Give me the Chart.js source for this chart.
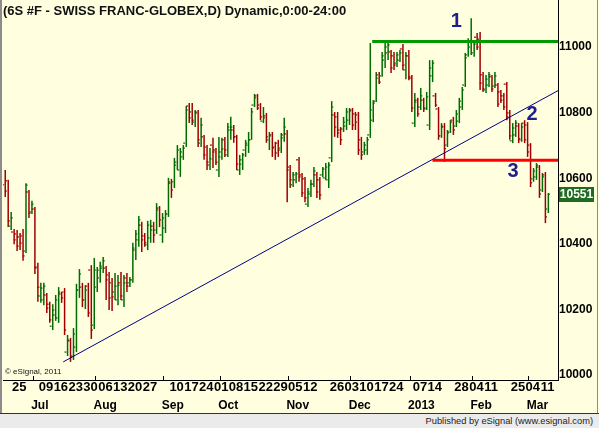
<!DOCTYPE html>
<html>
<head>
<meta charset="utf-8">
<title>6S #F - Swiss Franc Globex</title>
<script src="https://cdn.jsdelivr.net/npm/chart.js"></script>
<style>
  body { margin: 0; background: #fff; }
  #wrap { width: 599px; height: 428px; overflow: hidden; }
  #chart { display: block; }
  #foot {
    height: 14px; border-top: 1px solid #333; background: #ebebeb;
    font: 9.3px "Liberation Sans", Arial, sans-serif; color: #222;
    text-align: right; padding-right: 6px; line-height: 14px;
  }
</style>
</head>
<body>
<div id="wrap">
  <canvas id="chart" width="599" height="413"></canvas>
  <div id="foot">Published by eSignal (www.esignal.com)</div>
</div>
<script>
// trading calendar (CME days, US holidays left out)
const holidays = ['2012-07-04', '2012-09-03', '2012-11-22', '2012-12-25', '2013-01-01', '2013-01-21', '2013-02-18'];
const padDays = ['2013-03-12', '2013-03-13', '2013-03-14'];

// daily bars, 18 Jun 2012 .. 11 Mar 2013
const highP = [
  10625,10595,10497,10445,10442,10433,10445,10585,10564,10531,
  10512,10342,10281,10281,10250,10223,10216,10244,10268,10253,
  10265,10122,10113,10143,10278,10323,10281,10274,10281,10335,
  10357,10329,10345,10360,10332,10314,10296,10311,10305,10314,
  10305,10311,10299,10403,10442,10485,10467,10433,10470,10473,
  10467,10524,10515,10494,10503,10601,10598,10662,10701,10692,
  10701,10820,10829,10829,10808,10808,10784,10732,10701,10692,
  10723,10692,10726,10723,10726,10768,10787,10762,10732,10671,
  10677,10717,10741,10814,10857,10857,10829,10817,10799,10741,
  10741,10711,10717,10738,10784,10747,10640,10619,10619,10665,
  10616,10604,10570,10595,10634,10619,10604,10634,10646,10649,
  10835,10802,10802,10756,10787,10814,10814,10814,10802,10802,
  10726,10711,10726,11012,10838,10924,10924,10985,11015,11021,
  10991,10985,10985,10991,11009,10985,10991,10915,10860,10845,
  10875,10845,10863,10960,10960,10860,10817,10768,10768,10747,
  10777,10787,10808,10845,10878,10982,11027,11088,11021,11043,
  11046,10924,10915,10924,10915,10924,10890,10869,10860,10893,
  10808,10768,10777,10768,10768,10777,10771,10707,10631,10646,
  10640,10616,10619,10555
];
const lowP = [
  10543,10451,10442,10399,10378,10381,10348,10372,10479,10491,
  10308,10223,10220,10213,10189,10159,10137,10165,10159,10220,
  10122,10058,10040,10046,10070,10235,10207,10201,10177,10110,
  10140,10253,10281,10311,10229,10198,10195,10229,10213,10229,
  10207,10253,10268,10281,10351,10391,10375,10391,10381,10403,
  10403,10430,10451,10403,10433,10482,10540,10570,10625,10604,
  10656,10695,10768,10762,10756,10695,10695,10656,10625,10625,
  10631,10640,10604,10656,10665,10665,10717,10708,10625,10610,
  10625,10665,10677,10717,10817,10808,10777,10768,10708,10686,
  10665,10656,10665,10677,10711,10527,10570,10573,10585,10589,
  10543,10527,10512,10543,10573,10540,10534,10604,10595,10570,
  10649,10726,10723,10701,10741,10747,10762,10747,10747,10671,
  10656,10671,10671,10723,10771,10832,10887,10909,10936,10960,
  10921,10930,10939,10954,10930,10902,10899,10802,10756,10787,
  10808,10802,10808,10747,10893,10817,10717,10723,10650,10695,
  10738,10732,10756,10768,10808,10878,10970,10976,10970,10991,
  10869,10863,10860,10878,10863,10875,10817,10829,10808,10777,
  10717,10707,10726,10707,10711,10707,10665,10573,10589,10595,
  10540,10558,10463,10494
];
const openP = [
  10580,10592,10454,10436,10430,10421,10424,10378,10558,10497,
  10506,10329,10241,10229,10244,10216,10149,10183,10174,10247,
  10253,10070,10104,10058,10085,10259,10268,10229,10271,10320,
  10152,10268,10296,10326,10326,10305,10281,10253,10229,10281,
  10229,10296,10281,10290,10381,10412,10457,10424,10397,10418,
  10454,10442,10509,10427,10448,10491,10585,10589,10649,10625,
  10665,10707,10820,10802,10771,10799,10707,10726,10695,10640,
  10701,10686,10625,10680,10717,10671,10747,10747,10726,10625,
  10656,10686,10701,10717,10823,10851,10823,10774,10790,10717,
  10732,10695,10707,10692,10732,10735,10634,10580,10595,10656,
  10610,10598,10521,10552,10582,10610,10595,10610,10601,10595,
  10662,10793,10787,10747,10750,10759,10777,10808,10796,10793,
  10717,10680,10686,10732,10777,10835,10915,10912,10960,10982,
  10985,10973,10951,10960,10994,10930,10973,10905,10768,10838,
  10817,10838,10814,10762,10912,10851,10811,10729,10756,10701,
  10741,10777,10759,10774,10817,10884,10976,11000,10982,11030,
  11024,10915,10869,10884,10909,10881,10884,10863,10851,10887,
  10799,10714,10732,10759,10717,10768,10762,10701,10598,10604,
  10634,10564,10610,10506
];
const closeP = [
  10561,10470,10479,10412,10393,10402,10363,10579,10494,10521,
  10326,10268,10265,10271,10204,10168,10198,10229,10253,10235,
  10137,10107,10055,10125,10259,10308,10229,10259,10189,10137,
  10320,10320,10332,10348,10290,10235,10238,10271,10274,10241,
  10281,10271,10290,10387,10430,10473,10412,10403,10457,10442,
  10427,10503,10473,10479,10491,10589,10564,10640,10686,10680,
  10692,10808,10784,10777,10802,10717,10762,10671,10649,10659,
  10680,10649,10665,10689,10686,10756,10756,10726,10643,10643,
  10671,10707,10717,10802,10845,10814,10787,10784,10726,10729,
  10692,10677,10686,10723,10756,10625,10595,10610,10613,10604,
  10555,10540,10558,10582,10622,10558,10549,10628,10634,10640,
  10817,10756,10738,10717,10771,10802,10805,10762,10771,10686,
  10671,10701,10717,10808,10829,10905,10893,10973,11000,11006,
  10936,10945,10976,10982,10945,10973,10909,10814,10832,10796,
  10851,10811,10848,10936,10951,10823,10729,10759,10690,10738,
  10771,10747,10796,10835,10869,10967,11015,11018,11009,11000,
  10890,10872,10902,10915,10872,10912,10826,10838,10817,10787,
  10729,10753,10768,10720,10756,10717,10680,10586,10622,10640,
  10552,10604,10482,10551
];

// hand drawn studies (x in bar units)
const trendX = [19.8, 186.5], trendY = [10040, 10867];
const topX = [123.9, 186.5], topY = [11017, 11017];
const floorX = [144.2, 186.5], floorY = [10655, 10655];
const noteText = ['1', '2', '3'];
const noteX = [152.2, 177.8, 171.4];
const noteY = [11077, 10793, 10620];

// axis labels
const yTicks = [10000, 10200, 10400, 10600, 10800, 11000];
const weekLabels = ['2012-06-25', '2012-07-09', '2012-07-16', '2012-07-23', '2012-07-30',
  '2012-08-06', '2012-08-13', '2012-08-20', '2012-08-27', '2012-09-10', '2012-09-17',
  '2012-09-24', '2012-10-01', '2012-10-08', '2012-10-15', '2012-10-22', '2012-10-29',
  '2012-11-05', '2012-11-12', '2012-11-26', '2012-12-03', '2012-12-10', '2012-12-17',
  '2012-12-24', '2013-01-07', '2013-01-14', '2013-01-28', '2013-02-04', '2013-02-11',
  '2013-02-25', '2013-03-04', '2013-03-11'];
const monthKeys = ['2012-07', '2012-08', '2012-09', '2012-10', '2012-11', '2012-12', '2013-01', '2013-02', '2013-03'];
const monthNames = ['Jul', 'Aug', 'Sep', 'Oct', 'Nov', 'Dec', '2013', 'Feb', 'Mar'];
const titleText = '(6S #F - SWISS FRANC-GLOBEX,D) Dynamic,0:00-24:00';

const FONT = '"Liberation Sans", Arial, sans-serif';
const GREEN = '#006c00', RED = '#a00000';

const dates = [];
for (let d = new Date(Date.UTC(2012, 5, 18)); d <= new Date(Date.UTC(2013, 2, 11)); d.setUTCDate(d.getUTCDate() + 1)) {
  const s = d.toISOString().slice(0, 10);
  const wd = d.getUTCDay();
  if (wd === 0 || wd === 6 || holidays.includes(s)) continue;
  dates.push(s);
}
const categories = dates.concat(padDays);
const nCat = categories.length;

const dayLabels = categories.map(d => weekLabels.includes(d) ? d.slice(8) : '');
const monthText = categories.map((d, i) => {
  const k = d.slice(0, 7);
  const j = monthKeys.indexOf(k);
  if (j < 0 || (i > 0 && categories[i - 1].slice(0, 7) === k)) return '';
  return monthNames[j];
});

const barColor = closeP.map((c, i) => c >= openP[i] ? GREEN : RED);
const xy = (xs, ys) => xs.map((v, i) => ({x: v, y: ys[i]}));

// background, frame, title and notes
const overlay = {
  id: 'overlay',
  beforeDraw(chart) {
    const ctx = chart.ctx;
    ctx.save();
    ctx.fillStyle = '#ffffe0';
    ctx.fillRect(0, 0, chart.width, chart.height);
    ctx.restore();
  },
  afterDraw(chart) {
    const {ctx, chartArea} = chart;
    const xs = chart.scales.x, x2 = chart.scales.x2, ys = chart.scales.y;
    ctx.save();
    ctx.fillStyle = '#8c8c8c';
    ctx.fillRect(0, 0, 2, chart.height);
    ctx.fillRect(597, 0, 1, chart.height);

    // month marks on the time axis
    ctx.strokeStyle = '#000';
    ctx.lineWidth = 1;
    monthText.forEach((m, i) => {
      if (!m || i === 0) return;
      const px = Math.round((xs.getPixelForValue(i - 1) + xs.getPixelForValue(i)) / 2) + 0.5;
      ctx.beginPath();
      ctx.moveTo(px, chartArea.bottom - 4);
      ctx.lineTo(px, chartArea.bottom);
      ctx.stroke();
    });

    ctx.textBaseline = 'middle';
    ctx.textAlign = 'left';
    ctx.fillStyle = '#111';
    ctx.font = 'bold 13px ' + FONT;
    ctx.fillText(titleText, 3, 11);
    ctx.font = '8px ' + FONT;
    ctx.fillText('\u00a9 eSignal, 2011', 5, 372);

    ctx.font = 'bold 20px ' + FONT;
    ctx.fillStyle = '#1e1e8c';
    ctx.textAlign = 'center';
    noteText.forEach((t, k) => {
      ctx.fillText(t, x2.getPixelForValue(noteX[k]), ys.getPixelForValue(noteY[k]));
    });

    // last price tag
    const last = closeP[closeP.length - 1];
    const py = ys.getPixelForValue(last);
    ctx.fillStyle = '#1f6b1f';
    ctx.fillRect(chartArea.right + 1, Math.round(py - 7.5), 35, 15);
    ctx.fillStyle = '#fff';
    ctx.font = 'bold 12px ' + FONT;
    ctx.fillText(String(last), chartArea.right + 18.5, py + 0.5);
    ctx.restore();
  }
};

const tickFont = {family: FONT, size: 12, weight: 'bold'};
const dayFont = {family: FONT, size: 13, weight: 'bold'};
const noGrid = {display: false, drawTicks: false};

new Chart(document.getElementById('chart'), {
  type: 'bar',
  data: {
    labels: categories,
    datasets: [
      {
        type: 'line', label: 'top', xAxisID: 'x2', data: xy(topX, topY),
        borderColor: '#009a00', borderWidth: 3, pointRadius: 0, order: 0
      },
      {
        type: 'line', label: 'floor', xAxisID: 'x2', data: xy(floorX, floorY),
        borderColor: '#ff0000', borderWidth: 3, pointRadius: 0, order: 0
      },
      {
        type: 'line', label: 'trend', xAxisID: 'x2', data: xy(trendX, trendY),
        borderColor: '#000080', borderWidth: 1, pointRadius: 0, order: 1
      },
      {
        type: 'scatter', label: 'open', xAxisID: 'x2',
        data: openP.map((v, i) => ({x: i - 0.45, y: v})),
        pointStyle: 'line', pointRadius: 1, pointBorderWidth: 1.2,
        pointBorderColor: barColor, pointBackgroundColor: barColor, order: 2
      },
      {
        type: 'scatter', label: 'close', xAxisID: 'x2',
        data: closeP.map((v, i) => ({x: i + 0.45, y: v})),
        pointStyle: 'line', pointRadius: 1, pointBorderWidth: 1.2,
        pointBorderColor: barColor, pointBackgroundColor: barColor, order: 2
      },
      {
        type: 'bar', label: 'range',
        data: lowP.map((l, i) => [l, highP[i]]),
        backgroundColor: barColor, barThickness: 1.5, inflateAmount: 0, order: 3
      }
    ]
  },
  options: {
    responsive: false,
    animation: false,
    events: [],
    layout: {autoPadding: false, padding: {left: 3, right: 0, top: 0, bottom: 0}},
    plugins: {legend: {display: false}, tooltip: {enabled: false}},
    scales: {
      x: {
        type: 'category', position: 'bottom', offset: true, weight: 0,
        grid: noGrid,
        border: {display: true, color: '#000', width: 1},
        ticks: {
          autoSkip: false, maxRotation: 0, minRotation: 0, padding: 0,
          color: '#000', font: dayFont,
          callback: (v, i) => dayLabels[i]
        },
        afterFit: s => { s.height = 17; s.paddingLeft = 0; s.paddingRight = 0; }
      },
      xm: {
        type: 'category', position: 'bottom', offset: true, weight: 1,
        grid: noGrid,
        border: {display: false},
        ticks: {
          autoSkip: false, maxRotation: 0, minRotation: 0, padding: 1,
          align: 'start', labelOffset: -3,
          color: '#000', font: tickFont,
          callback: (v, i) => monthText[i]
        },
        afterFit: s => { s.height = 16; s.paddingLeft = 0; s.paddingRight = 0; }
      },
      x2: {
        type: 'linear', display: false, offset: false, grid: {offset: false},
        min: -0.5, max: nCat - 0.5
      },
      y: {
        type: 'linear', position: 'right', min: 9984.8, max: 11143.3,
        grid: noGrid,
        border: {display: true, color: '#000', width: 1},
        ticks: {
          padding: 1, color: '#000', font: tickFont,
          callback: v => String(v)
        },
        afterBuildTicks: s => { s.ticks = yTicks.map(v => ({value: v})); },
        afterFit: s => { s.width = 41; s.paddingTop = 0; s.paddingBottom = 0; }
      }
    }
  },
  plugins: [overlay]
});
</script>
</body>
</html>
